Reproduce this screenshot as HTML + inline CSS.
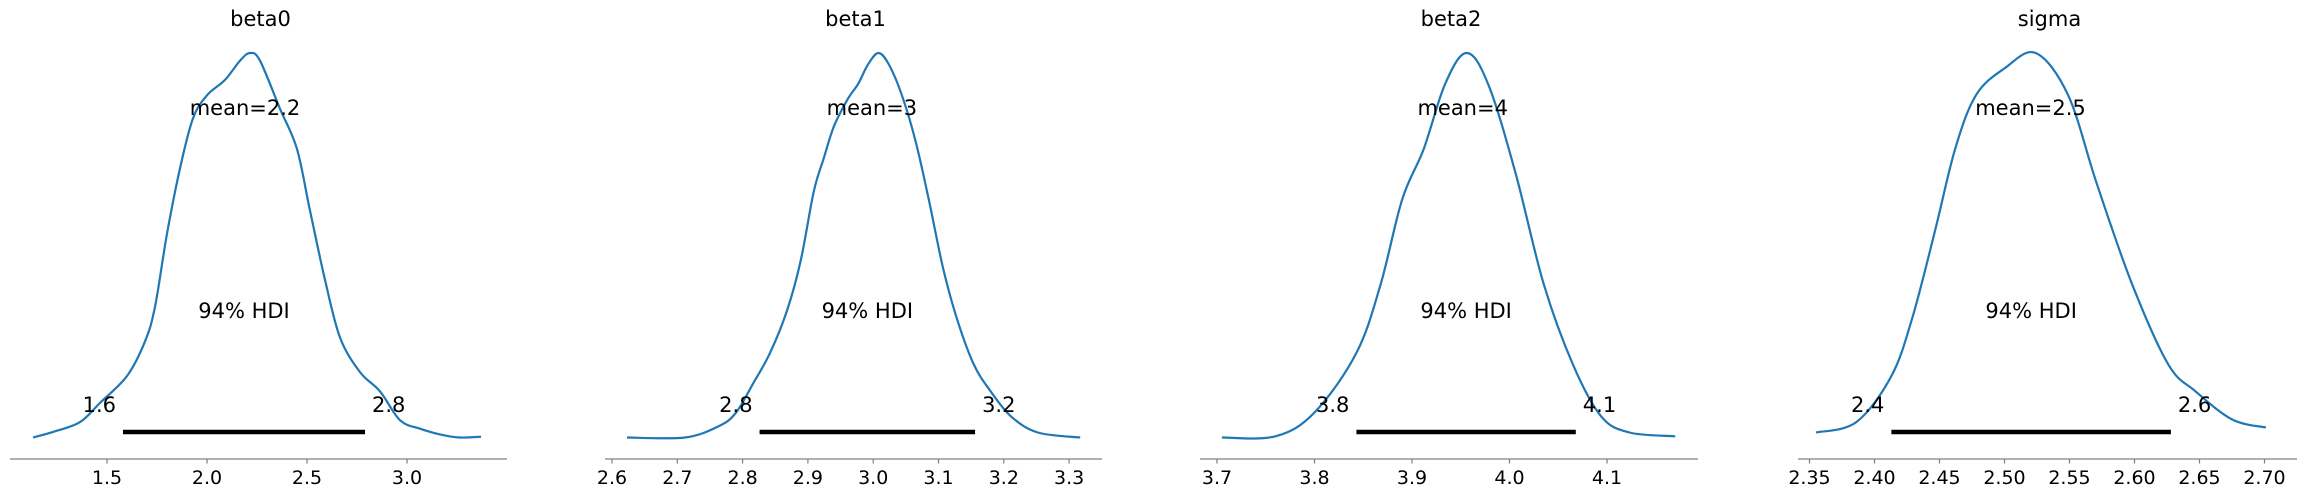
<!DOCTYPE html>
<html><head><meta charset="utf-8">
<style>
html,body{margin:0;padding:0;background:#fff;}
svg{display:block;font-family:"DejaVu Sans","Liberation Sans",sans-serif;}
</style></head>
<body>
<svg id="chart" width="2301" height="497" viewBox="0 0 2301 497" xmlns="http://www.w3.org/2000/svg"></svg>
<script>
// ---- data ----
const panelTitles = ["beta0", "beta1", "beta2", "sigma"];
const meanLabels = ["mean=2.2", "mean=3", "mean=4", "mean=2.5"];
const meanValues = [2.19, 2.998, 3.952, 2.52];
const hdiLow = [1.58, 2.826, 3.843, 2.413];
const hdiHigh = [2.79, 3.156, 4.068, 2.628];
const hdiLowLabels = ["1.6", "2.8", "3.8", "2.4"];
const hdiHighLabels = ["2.8", "3.2", "4.1", "2.6"];
const tickLabels0 = ["1.5", "2.0", "2.5", "3.0"];
const tickLabels1 = ["2.6", "2.7", "2.8", "2.9", "3.0", "3.1", "3.2", "3.3"];
const tickLabels2 = ["3.7", "3.8", "3.9", "4.0", "4.1"];
const tickLabels3 = ["2.35", "2.40", "2.45", "2.50", "2.55", "2.60", "2.65", "2.70"];
const densX0 = [1.13,1.24,1.365,1.465,1.6,1.69,1.74,1.8,1.865,1.93,2.0,2.09,2.165,2.215,2.265,2.365,2.45,2.515,2.59,2.665,2.765,2.865,2.965,3.065,3.165,3.265,3.37];
const densY0 = [0,0.016,0.04,0.09,0.16,0.25,0.34,0.53,0.70,0.83,0.89,0.93,0.98,1.0,0.98,0.855,0.75,0.59,0.41,0.26,0.17,0.12,0.045,0.023,0.008,0,0.002];
const densX1 = [2.623,2.712,2.764,2.79,2.816,2.842,2.868,2.889,2.909,2.925,2.94,2.961,2.977,2.992,3.008,3.024,3.044,3.065,3.085,3.107,3.128,3.154,3.18,3.211,3.252,3.317];
const densY1 = [0,0,0.03,0.065,0.14,0.22,0.33,0.46,0.64,0.73,0.81,0.88,0.92,0.97,1,0.97,0.89,0.77,0.62,0.44,0.31,0.19,0.12,0.055,0.013,0];
const densX2 = [3.705,3.76,3.80,3.843,3.868,3.89,3.912,3.934,3.956,3.978,4.006,4.035,4.065,4.094,4.123,4.17];
const densY2 = [0,0.003,0.065,0.22,0.40,0.62,0.75,0.92,1,0.92,0.69,0.40,0.19,0.055,0.013,0.003];
const densX3 = [2.355,2.386,2.413,2.429,2.446,2.462,2.478,2.50,2.524,2.549,2.571,2.598,2.626,2.647,2.675,2.701];
const densY3 = [0.013,0.04,0.16,0.31,0.53,0.75,0.89,0.96,1,0.89,0.66,0.40,0.19,0.12,0.047,0.026];

const tickLabels = [tickLabels0, tickLabels1, tickLabels2, tickLabels3];
const densX = [densX0, densX1, densX2, densX3];
const densY = [densY0, densY1, densY2, densY3];

// ---- layout (pixel domain per panel) ----
const spineL = [10, 605, 1200, 1798];
const spineR = [507, 1102, 1698, 2297];
const refV = [[1.5, 107], [2.6, 612], [3.7, 1217], [2.35, 1809.5]];
const pxPerUnit = [200, 653, 975, 1300];
const axisY = 459, baseY = 437.5, peakY = 53;

const svg = document.getElementById('chart');
const NS = 'http://www.w3.org/2000/svg';
function mk(tag, attrs, parent) {
  const e = document.createElementNS(NS, tag);
  for (const k in attrs) e.setAttribute(k, attrs[k]);
  (parent || svg).appendChild(e);
  return e;
}
function smoothPath(pts) {
  let d = 'M' + pts[0][0].toFixed(1) + ',' + pts[0][1].toFixed(1);
  for (let i = 0; i < pts.length - 1; i++) {
    const p0 = pts[Math.max(0, i - 1)], p1 = pts[i], p2 = pts[i + 1], p3 = pts[Math.min(pts.length - 1, i + 2)];
    const c1x = p1[0] + (p2[0] - p0[0]) / 6, c1y = p1[1] + (p2[1] - p0[1]) / 6;
    const c2x = p2[0] - (p3[0] - p1[0]) / 6, c2y = p2[1] - (p3[1] - p1[1]) / 6;
    d += 'C' + c1x.toFixed(1) + ',' + c1y.toFixed(1) + ' ' + c2x.toFixed(1) + ',' + c2y.toFixed(1) + ' ' + p2[0].toFixed(1) + ',' + p2[1].toFixed(1);
  }
  return d;
}

for (let p = 0; p < 4; p++) {
  const xs = v => refV[p][1] + (v - refV[p][0]) * pxPerUnit[p];
  const ys = d => baseY - d * (baseY - peakY);
  const g = mk('g', {});
  
  
  const cx = (spineL[p] + spineR[p]) / 2;

  const t = mk('text', {x: cx + 2, y: 26, 'text-anchor': 'middle', 'font-size': 21, fill: '#000'}, g);
  t.textContent = panelTitles[p];
  
  

  // density curve
  const pts = densX[p].map((v, i) => [xs(v), ys(densY[p][i])]);
  const path = mk('path', {d: smoothPath(pts), fill: 'none', stroke: '#1f77b4', 'stroke-width': 2.2, 'stroke-linejoin': 'round'}, g);
  
  

  // HDI bar
  const bar = mk('line', {x1: xs(hdiLow[p]), x2: xs(hdiHigh[p]), y1: 432, y2: 432, stroke: '#000', 'stroke-width': 4.5}, g);
  
  

  const lo = mk('text', {x: xs(hdiLow[p]) - 7, y: 412, 'text-anchor': 'end', 'font-size': 21}, g);
  lo.textContent = hdiLowLabels[p];
  
  
  const hi = mk('text', {x: xs(hdiHigh[p]) + 7, y: 412, 'text-anchor': 'start', 'font-size': 21}, g);
  hi.textContent = hdiHighLabels[p];
  
  

  const hl = mk('text', {x: (xs(hdiLow[p]) + xs(hdiHigh[p])) / 2, y: 318, 'text-anchor': 'middle', 'font-size': 21}, g);
  hl.textContent = '94% HDI';
  
  

  const ml = mk('text', {x: xs(meanValues[p]), y: 115, 'text-anchor': 'middle', 'font-size': 21}, g);
  ml.textContent = meanLabels[p];
  
  

  // x axis
  const sp = mk('line', {x1: spineL[p], x2: spineR[p], y1: axisY, y2: axisY, stroke: '#808080', 'stroke-width': 1.2}, g);
  
  
  tickLabels[p].forEach(lbl => {
    const x = xs(parseFloat(lbl));
    const tk = mk('line', {x1: x, x2: x, y1: axisY, y2: axisY + 4.5, stroke: '#808080', 'stroke-width': 1.2}, g);
    
    
    const tl = mk('text', {x: x, y: 484, 'text-anchor': 'middle', 'font-size': 19}, g);
    tl.textContent = lbl;
    
    
  });
}
</script>
</body></html>
